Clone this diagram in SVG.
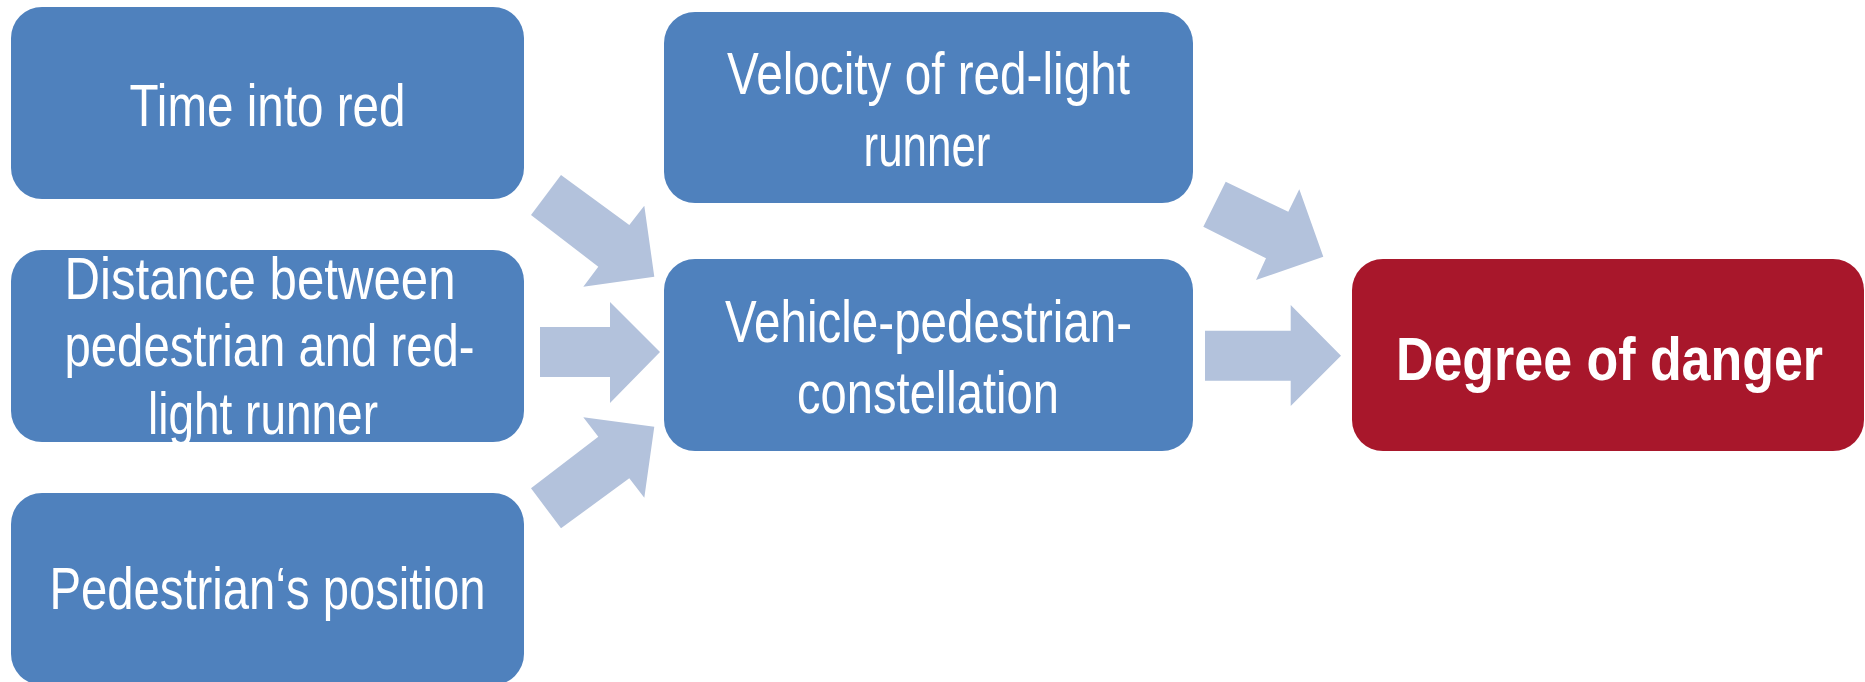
<svg xmlns="http://www.w3.org/2000/svg" width="1865" height="682" viewBox="0 0 1865 682">
  <style>
    .box { fill: #4F81BD; }
    .hot { fill: #A8172B; }
    .arrow { fill: #B3C2DC; }
    .lbl { font-family: "Liberation Sans", Arial, sans-serif; font-size: 60px; fill: #FFFFFF; text-anchor: middle; }
    .bold { font-weight: bold; font-size: 61px; }
  </style>
  <rect width="1865" height="682" fill="#FFFFFF"/>

  <g id="connectors">
    <polygon class="arrow" points="561,175 629.3,225 644.3,205.7 654.3,276.7 583.3,286.7 598.3,266.7 531,215"/>
    <polygon class="arrow" points="540,327 610,327 610,302 660,352 610,403 610,377 540,377"/>
    <polygon class="arrow" points="561,528.3 629.3,478.3 644.3,497.7 654.3,426.7 583.3,417.3 598.3,436.7 531,488.3"/>
    <polygon class="arrow" points="1225.7,181.7 1288.3,211.7 1299.3,189.3 1323.3,256.7 1256,280 1266,258.3 1203.3,226.7"/>
    <polygon class="arrow" points="1205,330.7 1290.7,330.7 1290.7,305 1341,355.7 1290.7,406 1290.7,380.7 1205,380.7"/>
  </g>

  <g id="time-into-red">
    <rect class="box" x="11" y="7" width="513" height="192" rx="31" ry="31"/>
    <text class="lbl" x="267.5" y="126" textLength="276" lengthAdjust="spacingAndGlyphs">Time into red</text>
  </g>

  <g id="distance">
    <rect class="box" x="11" y="250" width="513" height="192" rx="31" ry="31"/>
    <text class="lbl" x="260" y="299" textLength="391" lengthAdjust="spacingAndGlyphs">Distance between</text>
    <text class="lbl" x="269.5" y="366" textLength="410" lengthAdjust="spacingAndGlyphs">pedestrian and red-</text>
    <text class="lbl" x="263" y="434" textLength="230" lengthAdjust="spacingAndGlyphs">light runner</text>
  </g>

  <g id="pedestrian-position">
    <rect class="box" x="11" y="493" width="513" height="192" rx="31" ry="31"/>
    <text class="lbl" x="267.5" y="609" textLength="436" lengthAdjust="spacingAndGlyphs">Pedestrian‘s position</text>
  </g>

  <g id="velocity">
    <rect class="box" x="664" y="12" width="529" height="191" rx="31" ry="31"/>
    <text class="lbl" x="928.5" y="94" textLength="403" lengthAdjust="spacingAndGlyphs">Velocity of red-light</text>
    <text class="lbl" x="927" y="166" textLength="127" lengthAdjust="spacingAndGlyphs">runner</text>
  </g>

  <g id="constellation">
    <rect class="box" x="664" y="259" width="529" height="192" rx="31" ry="31"/>
    <text class="lbl" x="928.5" y="342" textLength="407" lengthAdjust="spacingAndGlyphs">Vehicle-pedestrian-</text>
    <text class="lbl" x="928" y="413" textLength="262" lengthAdjust="spacingAndGlyphs">constellation</text>
  </g>

  <g id="degree-of-danger">
    <rect class="hot" x="1352" y="259" width="512" height="192" rx="31" ry="31"/>
    <text class="lbl bold" x="1609.5" y="380" textLength="427" lengthAdjust="spacingAndGlyphs">Degree of danger</text>
  </g>
</svg>
